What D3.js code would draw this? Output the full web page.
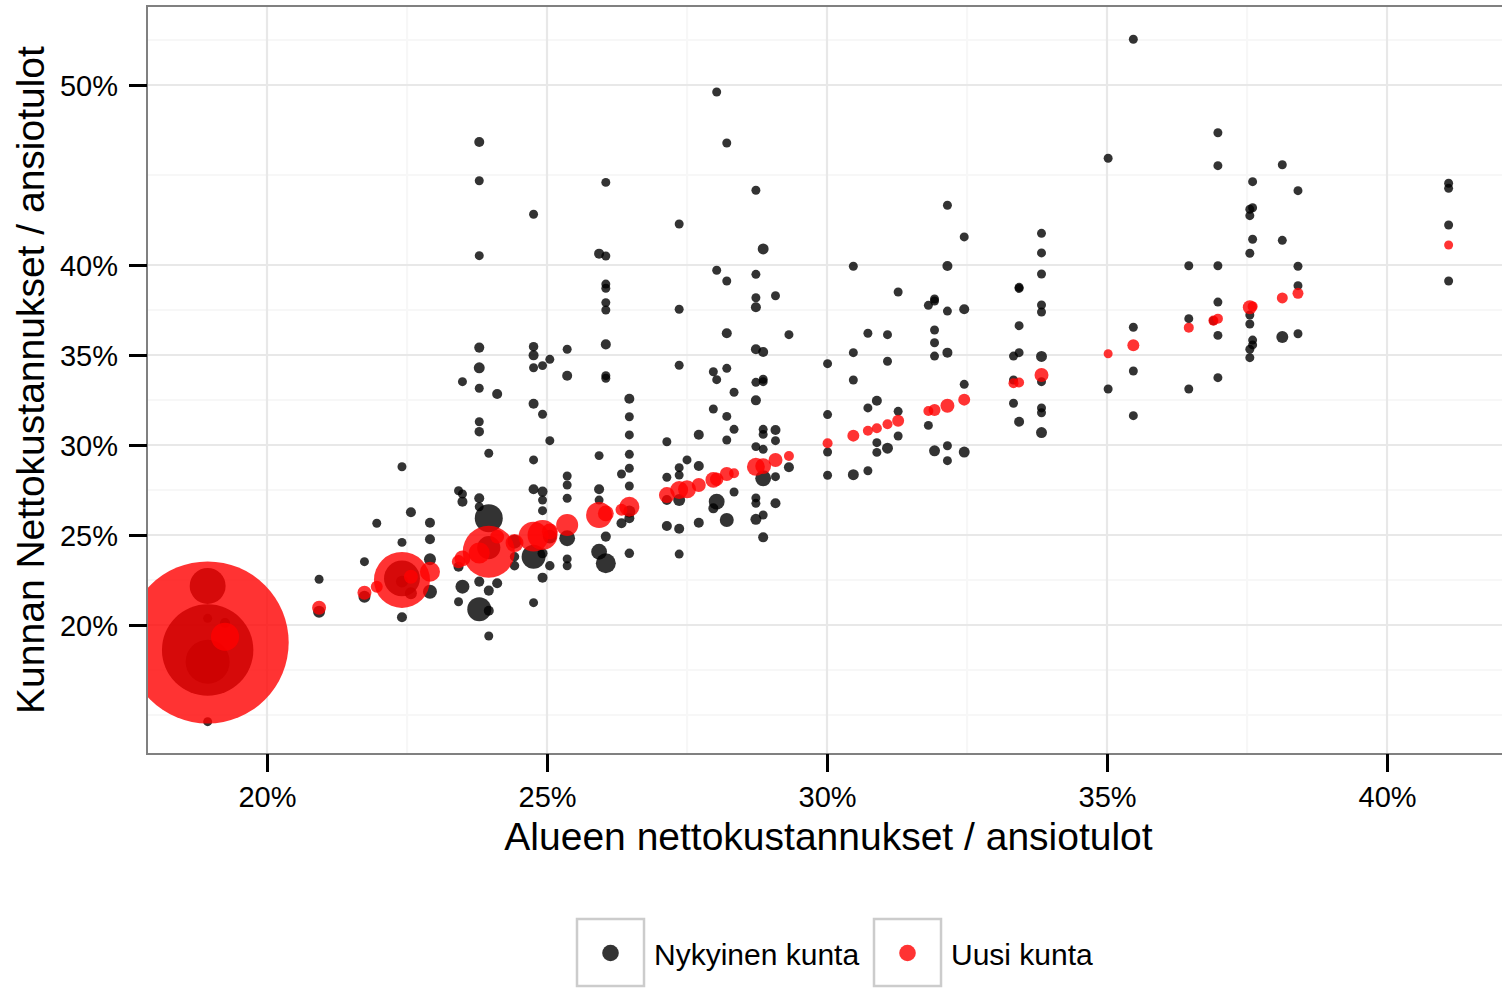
<!DOCTYPE html>
<html><head><meta charset="utf-8">
<script src="https://cdn.jsdelivr.net/npm/d3@7"></script>
<style>html,body{margin:0;padding:0;background:#fff}svg{display:block}</style>
</head><body><svg id="c" width="1502" height="988"></svg>
<script>
// ---- data (values in %, population in thousands) ----
const alueX = [18.94,19.25,20.93,21.74,21.96,22.41,22.57,22.91,23.42,23.49,23.79,23.96,24.11,24.42,24.76,24.92,25.05,25.36,25.93,26.05,26.33,26.47,27.14,27.36,27.5,27.71,27.97,28.03,28.21,28.34,28.73,28.86,29.08,29.32,30.01,30.47,30.73,30.89,31.08,31.27,31.81,31.92,32.15,32.45,33.33,33.43,33.83,35.02,35.47,36.46,36.9,36.98,37.6,37.55,38.13,38.41,41.1];
const uusiY = [19.03,19.35,20.96,21.79,22.13,22.5,22.68,22.96,23.52,23.7,24.0,24.07,24.91,24.55,24.91,25.0,25.2,25.56,26.11,26.2,26.4,26.57,27.22,27.5,27.54,27.78,28.06,28.1,28.39,28.43,28.79,28.83,29.17,29.39,30.1,30.52,30.79,30.93,31.15,31.35,31.89,31.94,32.18,32.52,33.43,33.47,33.89,35.07,35.54,36.52,36.91,37.02,37.7,37.65,38.17,38.43,41.11];
const uusiPop = [1465,44,10.9,10.9,8,175,10.9,22.3,10,14,25,151,10.9,18,50,50,14,27,37.7,14,8,22.3,14,18,18,10.9,14,10,10.9,5.6,18,14,10.9,5.6,5.6,8,5.6,5.6,5.6,8,5.6,8,10.9,8,5.6,5.6,10.9,4.5,8,5.6,5.6,5.6,5.6,10.9,6.7,6.7,4.5];
const kuntaY = [
 [14.63,22.17,20.37,18.61,17.96],
 [20.11],
 [22.54,20.74],
 [23.52,21.57],
 [25.65],
 [28.79,24.59,22.59,22.41,20.43],
 [26.26,21.76],
 [25.68,24.76,23.65,21.85],
 [27.46,23.24,21.29],
 [33.52,26.85,27.28,22.13],
 [46.83,44.68,40.52,35.41,34.29,33.15,31.29,30.74,27.04,26.57,22.41,20.87],
 [29.54,25.93,21.91,20.79,19.39,24.3],
 [32.83,22.32],
 [24.63,23.79,23.29],
 [42.82,35.46,34.98,34.29,32.29,29.17,27.54,23.79,21.24],
 [34.41,31.71,27.41,26.94,26.35,23.98,22.63],
 [34.76,30.24,24.91,23.29],
 [35.32,33.85,28.28,27.78,27.04,24.82,23.67,23.29],
 [40.63,29.41,27.54,26.94,24.07],
 [44.59,40.5,38.94,38.71,37.91,37.5,35.59,33.85,33.71,24.91,23.43],
 [28.39,25.65],
 [32.57,31.57,30.56,29.48,28.71,27.72,25.93,23.98,26.3],
 [30.18,28.21,26.94,25.5],
 [42.28,37.54,34.43,28.74,28.33,26.94,25.35,23.94],
 [29.17],
 [30.57,28.83,25.68],
 [34.07,32.0,26.48],
 [49.61,39.71,33.63,26.85],
 [46.78,39.11,36.21,34.26,31.59,30.28,25.83],
 [32.93,30.87,27.39],
 [44.15,39.48,38.18,37.65,35.32,33.48,32.48,29.91,27.06,26.76,25.87],
 [40.89,35.17,33.65,33.52,30.87,30.59,29.76,28.15,26.11,24.87],
 [38.29,30.83,30.24,28.24,26.76],
 [36.13,28.76],
 [34.52,31.69,29.61,28.32],
 [39.93,35.13,33.61,28.35],
 [36.21,32.06,28.57],
 [32.46,30.13,29.59],
 [36.13,34.65,29.82],
 [38.5,31.87,30.5],
 [37.76,31.09],
 [38.11,38.0,36.39,35.68,34.94,29.68],
 [43.32,39.94,37.44,35.13,29.96,29.13],
 [41.56,37.54,33.37,29.61],
 [34.94,33.61,32.32],
 [38.76,38.7,36.63,35.13,31.29],
 [41.76,40.67,39.5,37.78,37.39,34.92,33.52,32.06,31.79,30.69],
 [45.93,33.11],
 [52.54,36.54,34.11,31.63],
 [39.96,37.02,33.11],
 [36.9],
 [47.35,45.52,39.96,37.94,36.09,33.74],
 [44.63,43.18,41.43,35.83,35.56],
 [43.1,42.74,40.65,37.22,36.72,35.32,34.85],
 [45.57,41.37,36.0],
 [44.13,39.93,38.85,36.18],
 [44.54,44.26,42.22,39.11]
];
const kuntaPop = [
 [4.5,72,4.5,466,108],
 [5.6],
 [4.5,8],
 [4.5,8],
 [4.5],
 [4.5,4.5,72,8,5.6],
 [5.6,8],
 [5.6,5.6,8,10.9],
 [4.5,5.6,4.5],
 [4.5,5.6,4.5,10.9],
 [5.6,4.5,4.5,5.6,6.7,4.5,4.5,5,5.6,4.5,5.6,32],
 [4.5,43.7,5.6,5.6,4.5,30],
 [5.6,5.6],
 [10.9,5,5],
 [4.5,5,5.6,4.5,5.6,4.5,5.6,32,4.5],
 [4.5,4.5,5.6,4.5,4.5,5.6,5.6],
 [4.5,4.5,10.9,5],
 [4.5,5.6,4.5,4.5,4.5,14,4.5,4.5],
 [5.6,4.5,5.6,4.5,14],
 [4.5,4.5,4.5,4.5,4.5,4.5,5.6,4.5,4.5,5.6,22.3],
 [4.5,5.6],
 [5.6,4.5,4.5,4.5,4.5,4.5,5.6,5,8],
 [4.5,4.5,5.6,5.6],
 [4.5,4.5,4.5,4.5,4.5,8,5.6,4.5],
 [4.5],
 [5.6,5.6,5.6],
 [4.5,4.5,5.6],
 [4.5,4.5,4.5,14],
 [4.5,4.5,5.6,4.5,4.5,4.5,10.9],
 [4.5,4.5,4.5],
 [4.5,4.5,4.5,5.6,5.6,4.5,5.6,4.5,4.5,4.5,6.7],
 [6.7,5.6,4.5,4.5,4.5,4.5,4.5,14,4.5,5.6],
 [4.5,5.6,4.5,4.5,5.6],
 [4.5,5.6],
 [4.5,4.5,4.5,4.5],
 [4.5,4.5,4.5,6.7],
 [4.5,4.5,4.5],
 [5.6,4.5,4.5],
 [4.5,4.5,6.7],
 [4.5,4.5,4.5],
 [4.5,4.5],
 [4.5,4.5,4.5,4.5,4.5,6.7],
 [4.5,5.6,4.5,5.6,4.5,4.5],
 [4.5,5.6,4.5,6.7],
 [4.5,4.5,4.5],
 [4.5,4.5,4.5,4.5,5.6],
 [4.5,4.5,4.5,4.5,4.5,6.7,4.5,4.5,4.5,6.7],
 [4.5,4.5],
 [4.5,4.5,4.5,4.5],
 [4.5,4.5,4.5],
 [4.5],
 [4.5,4.5,4.5,4.5,4.5,4.5],
 [4.5,4.5,4.5,4.5,4.5],
 [4.5,4.5,4.5,4.5,4.5,4.5,4.5],
 [4.5,4.5,8],
 [4.5,4.5,4.5,4.5],
 [4.5,4.5,4.5,4.5]
];
const xTicks = [20,25,30,35,40];
const yTicks = [20,25,30,35,40,50];
const xMinor = [22.5,27.5,32.5,37.5];
const yMinor = [15,17.5,22.5,27.5,32.5,37.5,45,52.5];
const legendLabels = ["Nykyinen kunta","Uusi kunta"];
const xTitle = "Alueen nettokustannukset / ansiotulot";
const yTitle = "Kunnan Nettokustannukset / ansiotulot";

// ---- drawing ----
const svg = d3.select("#c");
const L = 147, T = 6, R = 1510, B = 754;
const x = d3.scaleLinear().domain([17.857, 42.196]).range([L, R]);
const y = d3.scaleLinear().domain([12.833, 54.389]).range([B, T]);
const r = d3.scaleSqrt().domain([0, 1500]).range([0, 82]);
const font = "Arial, 'Liberation Sans', Helvetica, sans-serif";

svg.append("rect").attr("width",1502).attr("height",988).attr("fill","#fff");
svg.append("defs").append("clipPath").attr("id","panel")
  .append("rect").attr("x",L).attr("y",T).attr("width",R-L).attr("height",B-T);

const g = svg.append("g");
// minor grid
g.selectAll(".mx").data(xMinor).join("line").attr("x1",d=>x(d)).attr("x2",d=>x(d)).attr("y1",T).attr("y2",B)
  .attr("stroke","#f7f7f7").attr("stroke-width",2.2);
g.selectAll(".my").data(yMinor).join("line").attr("y1",d=>y(d)).attr("y2",d=>y(d)).attr("x1",L).attr("x2",R)
  .attr("stroke","#f7f7f7").attr("stroke-width",2.2);
// major grid
g.selectAll(".Mx").data(xTicks).join("line").attr("x1",d=>x(d)).attr("x2",d=>x(d)).attr("y1",T).attr("y2",B)
  .attr("stroke","#e8e8e8").attr("stroke-width",2.2);
g.selectAll(".My").data(yTicks).join("line").attr("y1",d=>y(d)).attr("y2",d=>y(d)).attr("x1",L).attr("x2",R)
  .attr("stroke","#e8e8e8").attr("stroke-width",2.2);

// points
const kunnat = [];
alueX.forEach((ax,i)=>kuntaY[i].forEach((ky,j)=>kunnat.push({x:ax,y:ky,p:kuntaPop[i][j]})));
const uudet = alueX.map((ax,i)=>({x:ax,y:uusiY[i],p:uusiPop[i]}));
const pts = svg.append("g").attr("clip-path","url(#panel)");
pts.selectAll(".k").data(kunnat).join("circle").attr("cx",d=>x(d.x)).attr("cy",d=>y(d.y)).attr("r",d=>r(d.p))
  .attr("fill","#000").attr("fill-opacity",0.8);
pts.selectAll(".u").data(uudet).join("circle").attr("cx",d=>x(d.x)).attr("cy",d=>y(d.y)).attr("r",d=>r(d.p))
  .attr("fill","#ff0000").attr("fill-opacity",0.8);

// panel border
svg.append("rect").attr("x",L).attr("y",T).attr("width",R-L).attr("height",B-T)
  .attr("fill","none").attr("stroke","#808080").attr("stroke-width",2);

// axes
const xa = svg.append("g").attr("transform",`translate(0,${B})`)
  .call(d3.axisBottom(x).tickValues(xTicks).tickFormat(d=>d+"%").tickSize(18).tickPadding(14));
const ya = svg.append("g").attr("transform",`translate(${L},0)`)
  .call(d3.axisLeft(y).tickValues(yTicks).tickFormat(d=>d+"%").tickSize(18).tickPadding(11));
[xa,ya].forEach(a=>{
  a.select(".domain").remove();
  a.selectAll(".tick line").attr("stroke","#000").attr("stroke-width",3);
  a.selectAll(".tick text").attr("fill","#000").style("font-family",font).style("font-size","29px");
});
ya.selectAll(".tick text").attr("dy","0.36em");

// titles
svg.append("text").attr("x",(L+R)/2).attr("y",850).attr("text-anchor","middle")
  .style("font-family",font).style("font-size","39px").attr("fill","#000").text(xTitle);
svg.append("text").attr("transform",`translate(44,${(T+B)/2}) rotate(-90)`).attr("text-anchor","middle")
  .style("font-family",font).style("font-size","39px").attr("fill","#000").text(yTitle);

// legend
const keys = [{x:577,c:"#000",tx:654},{x:874,c:"#ff0000",tx:951}];
const lg = svg.append("g");
keys.forEach((k,i)=>{
  lg.append("rect").attr("x",k.x).attr("y",919).attr("width",67).attr("height",67)
    .attr("fill","#fff").attr("stroke","#cccccc").attr("stroke-width",2.5);
  lg.append("circle").attr("cx",k.x+33.5).attr("cy",953).attr("r",8.3).attr("fill",k.c).attr("fill-opacity",0.8);
  lg.append("text").attr("x",k.tx).attr("y",965).style("font-family",font).style("font-size","30px")
    .attr("fill","#000").text(legendLabels[i]);
});
</script></body></html>
